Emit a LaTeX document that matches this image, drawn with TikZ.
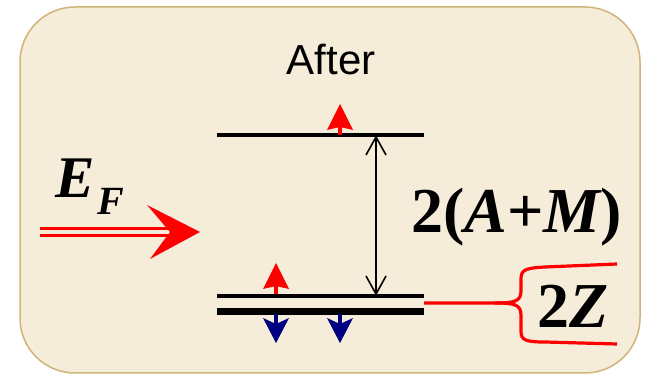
\documentclass[tikz,border=0pt]{standalone}
\usepackage{fontspec}
\setmainfont{Liberation Serif}
\newfontfamily\arialf{Liberation Sans}
\definecolor{boxfill}{HTML}{F5EDDA}
\definecolor{boxborder}{HTML}{D0B478}
\definecolor{spinred}{HTML}{FF0000}
\definecolor{spinblue}{HTML}{000080}
\tikzset{
  level/.style={line width=4pt, black},
  thicklevel/.style={line width=7pt, black},
  shaft/.style={line width=4pt},
  gapline/.style={line width=1.6pt, black, line join=miter},
  bracestyle/.style={spinred, line width=3.2pt, line join=round},
  bigmath/.style={font=\fontsize{64}{70}\selectfont\bfseries, inner sep=0pt}
}
\begin{document}
\begin{tikzpicture}[x=1pt,y=-1pt]
\useasboundingbox (0,0) rectangle (646,374);
\fill[white] (0,0) rectangle (646,374);
\draw[draw=boxborder, fill=boxfill, line width=1.5pt, rounded corners=55pt] (20,7) rectangle (640,373);

% title
\node[font=\arialf\fontsize{42}{50}\selectfont, anchor=base, inner sep=0pt] (title) at (331,75) {After};

% levels
\coordinate (tl) at (217,135); \coordinate (tr) at (424,135);
\coordinate (ml) at (217,296); \coordinate (mr) at (424,296);
\coordinate (bl) at (217,312); \coordinate (br) at (424,312);
\draw[level] (tl) -- (tr);
\draw[line width=3.5pt] (ml) -- (mr);
\draw[thicklevel] (bl) -- (br);

% gap arrow
\coordinate (gt) at (376,137); \coordinate (gb) at (376,294);
\draw[gapline] (gt) -- (gb);
\draw[gapline] (366,155) -- (gt) -- (386,155);
\draw[gapline] (366,276) -- (gb) -- (386,276);

% spin up arrows (red)
\foreach \x/\yb in {340/135, 276/294} {
  \draw[spinred, shaft] (\x,\yb) -- (\x,\yb-8);
  \fill[spinred] (\x,\yb-31) -- (\x+13,\yb-5) -- (\x,\yb-8) -- (\x-13,\yb-5) -- cycle;
}
% spin down arrows (blue)
\foreach \x in {276, 340} {
  \draw[spinblue, shaft] (\x,314) -- (\x,324);
  \fill[spinblue] (\x,343) -- (\x+13,318) -- (\x,324) -- (\x-13,318) -- cycle;
}

% labels
\node[bigmath, anchor=base] (am) at (516.5,233) {2(\itshape A\upshape+\itshape M\upshape)};
\node[bigmath, anchor=base] (z) at (573,328) {2\itshape Z};

% brace
\coordinate (bs) at (424,303);
\coordinate (btop) at (617,264);
\coordinate (bbot) at (617,344);
\draw[bracestyle] (bs) -- (495,303) .. controls (513,303) and (521,302) .. (521,291) -- (521,279) .. controls (521,270) and (525,268) .. (545,267) -- (btop);
\draw[bracestyle] (495,303) .. controls (513,303) and (521,304) .. (521,315) -- (521,331) .. controls (521,340) and (525,342) .. (545,342) -- (bbot);

% E_F
\node[font=\fontsize{59}{64}\selectfont\bfseries\itshape, anchor=base west, inner sep=0pt] (ef) at (55,198) {E\hspace{3pt}\raisebox{-17pt}{\fontsize{40}{44}\selectfont F}};

% field arrow
\coordinate (fa1) at (40,228.5); \coordinate (fb1) at (168,228.5);
\coordinate (fa2) at (40,235.5); \coordinate (fb2) at (168,235.5);
\draw[spinred, line width=3pt] (fa1) -- (fb1);
\draw[spinred, line width=3pt] (fa2) -- (fb2);
\fill[spinred] (200,232) -- (147,205) -- (170,232) -- (150,259) -- cycle;
\end{tikzpicture}
\end{document}
